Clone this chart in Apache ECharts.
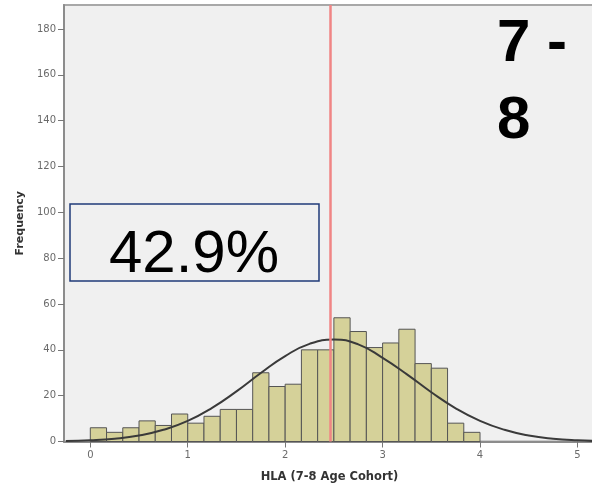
<!DOCTYPE html>
<html>
<head>
<meta charset="utf-8">
<script src="https://cdn.jsdelivr.net/npm/echarts@6/dist/echarts.min.js"></script>
<style>
  html, body { margin: 0; padding: 0; background: #fff; }
  #hist { width: 592px; height: 492px; }
</style>
</head>
<body>
<div id="hist"></div>
<script>
// histogram: 24 bins of width 1/6 starting at 0
const binWidth = 1 / 6
const counts = [6, 4, 6, 9, 7, 12, 8, 11, 14, 14, 30, 24, 25, 40, 40, 54, 48, 41, 43, 49, 34, 32, 8, 4]

// fitted normal curve
const curveX = [-0.25, 0, 0.25, 0.5, 0.75, 1, 1.25, 1.5, 1.75, 2, 2.25, 2.5, 2.75, 3, 3.25, 3.5, 3.75, 4, 4.25, 4.5, 4.75, 5, 5.25]
const curveY = [0.2, 0.5, 1.2, 2.6, 5.1, 9.0, 14.7, 21.9, 29.9, 37.3, 42.6, 44.5, 42.4, 36.5, 29.3, 21.5, 14.5, 9.0, 5.1, 2.6, 1.2, 0.5, 0.2]

const meanLine = 2.46
const xTicks = [0, 1, 2, 3, 4, 5]
const yTicks = [0, 20, 40, 60, 80, 100, 120, 140, 160, 180]
const boxLabel = '42.9%'
const cohortLines = ['7 -', '8']

let chart = echarts.init(document.getElementById('hist'))

let bars = counts.map((c, i) => [i * binWidth, (i + 1) * binWidth, c])
let curve = curveX.map((x, i) => [x, curveY[i]])

let axisFont = { fontFamily: 'DejaVu Sans', fontSize: 10, color: '#6a6a6a' }

let option = {
    backgroundColor: '#fff',
    animation: false,
    grid: {
        left: 64,
        top: 5,
        right: -3,
        bottom: 50.5,
        show: true,
        backgroundColor: '#f0f0f0',
        borderColor: '#a8a8a8',
        borderWidth: 2,
        outerBoundsMode: 'none'
    },
    xAxis: {
        type: 'value',
        min: -0.27,
        max: 5.18,
        name: 'HLA (7-8 Age Cohort)',
        nameLocation: 'middle',
        nameGap: 30,
        nameTextStyle: { fontFamily: 'DejaVu Sans', fontWeight: 'bold', fontSize: 11.5, color: '#333' },
        splitLine: { show: false },
        axisLine: { onZero: false, lineStyle: { color: '#8c8c8c', width: 2 } },
        axisTick: { customValues: xTicks, length: 6, lineStyle: { color: '#777' } },
        axisLabel: Object.assign({ customValues: xTicks, margin: 9 }, axisFont)
    },
    yAxis: {
        type: 'value',
        min: 0,
        max: 190.5,
        name: 'Frequency',
        nameLocation: 'middle',
        nameGap: 37,
        nameTextStyle: { fontFamily: 'DejaVu Sans', fontWeight: 'bold', fontSize: 11, color: '#333' },
        splitLine: { show: false },
        axisLine: { show: true, onZero: false, lineStyle: { color: '#8c8c8c', width: 2 } },
        axisTick: { show: true, customValues: yTicks, length: 6, lineStyle: { color: '#777' } },
        axisLabel: Object.assign({ customValues: yTicks, margin: 8 }, axisFont)
    },
    series: [
        {
            name: 'Frequency',
            type: 'custom',
            data: bars,
            renderItem: function (params, api) {
                let p0 = api.coord([api.value(0), api.value(2)])
                let p1 = api.coord([api.value(1), 0])
                return {
                    type: 'rect',
                    shape: { x: p0[0], y: p0[1], width: p1[0] - p0[0], height: p1[1] - p0[1] },
                    style: { fill: '#d5d199', stroke: '#555', lineWidth: 1 }
                }
            },
            z: 2
        },
        {
            name: 'Normal',
            type: 'line',
            data: curve,
            smooth: true,
            symbol: 'none',
            lineStyle: { color: '#3a3a3a', width: 2 },
            z: 3,
            markLine: {
                silent: true,
                symbol: ['none', 'none'],
                label: { show: false },
                lineStyle: { color: '#f08585', width: 2.5, type: 'solid' },
                data: [{ xAxis: meanLine }]
            }
        }
    ],
    graphic: [
        {
            type: 'rect',
            shape: { x: 70, y: 204, width: 249, height: 77 },
            style: { fill: 'transparent', stroke: '#1f3a78', lineWidth: 1.5 },
            z: 10
        },
        {
            type: 'text',
            x: 194, y: 255,
            style: {
                text: boxLabel,
                fontFamily: 'Liberation Sans', fontSize: 60,
                fill: '#000', align: 'center', verticalAlign: 'middle'
            },
            z: 10
        },
        {
            type: 'text',
            x: 497, y: 44,
            style: {
                text: cohortLines[0],
                fontFamily: 'Liberation Sans', fontWeight: 'bold', fontSize: 60,
                fill: '#000', align: 'left', verticalAlign: 'middle'
            },
            z: 10
        },
        {
            type: 'text',
            x: 497, y: 121,
            style: {
                text: cohortLines[1],
                fontFamily: 'Liberation Sans', fontWeight: 'bold', fontSize: 60,
                fill: '#000', align: 'left', verticalAlign: 'middle'
            },
            z: 10
        }
    ]
}

chart.setOption(option)
</script>
</body>
</html>
